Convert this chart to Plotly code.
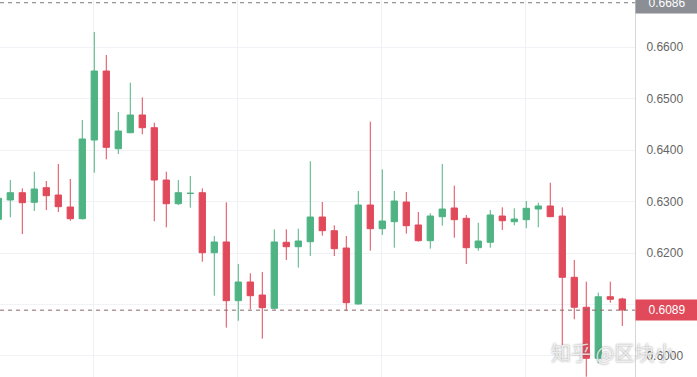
import plotly.graph_objects as go

# candle index (time slots)
idx = list(range(53))

opens = [0.62654, 0.63029, 0.63171, 0.62984, 0.63268, 0.63126, 0.62893, 0.62666, 0.64194, 0.65534,
         0.64025, 0.64336, 0.64680, 0.64433, 0.63417, 0.62957, 0.63155, 0.63171, 0.62006, 0.62214,
         0.61074, 0.61437, 0.61184, 0.60926, 0.62208, 0.62122, 0.62219, 0.62699, 0.62433, 0.62097,
         0.61010, 0.62932, 0.62472, 0.62608, 0.62990, 0.62544, 0.62239, 0.62705, 0.62874, 0.62674,
         0.62103, 0.62208, 0.62718, 0.62608, 0.62647, 0.62854, 0.62913, 0.62718, 0.61528, 0.60946,
         0.59955, 0.61151, 0.61107]
highs = [0.63100, 0.63417, 0.63256, 0.63579, 0.63398, 0.63728, 0.63437, 0.64583, 0.66291, 0.65845,
         0.64738, 0.65307, 0.65023, 0.64530, 0.63579, 0.63417, 0.63495, 0.63256, 0.62330, 0.62984,
         0.61786, 0.61606, 0.61631, 0.62460, 0.62460, 0.62472, 0.63781, 0.62990, 0.62538, 0.62330,
         0.63204, 0.64550, 0.63625, 0.63204, 0.63184, 0.62796, 0.62771, 0.63728, 0.63307, 0.62738,
         0.62588, 0.62835, 0.62887, 0.62868, 0.63010, 0.62977, 0.63365, 0.62887, 0.61864, 0.61443,
         0.61229, 0.61443, 0.61132]
lows = [0.62600, 0.62693, 0.62369, 0.62816, 0.62835, 0.62796, 0.62627, 0.62650, 0.63559, 0.63819,
        0.63922, 0.64324, 0.64305, 0.62616, 0.62499, 0.62932, 0.62880, 0.61831, 0.61171, 0.60550,
        0.60685, 0.60907, 0.60336, 0.60900, 0.61864, 0.61715, 0.61942, 0.62336, 0.61942, 0.60880,
        0.61000, 0.62045, 0.62350, 0.62103, 0.62375, 0.62220, 0.62084, 0.62530, 0.62297, 0.61786,
        0.62045, 0.62103, 0.62447, 0.62538, 0.62480, 0.62499, 0.62700, 0.60214, 0.60713, 0.59598,
        0.59858, 0.61035, 0.60583]
closes = [0.63062, 0.63171, 0.62977, 0.63243, 0.63113, 0.62899, 0.62666, 0.64214, 0.65534, 0.64052,
          0.64369, 0.64680, 0.64433, 0.63417, 0.62957, 0.63171, 0.63160, 0.62006, 0.62214, 0.61074,
          0.61437, 0.61171, 0.60938, 0.62214, 0.62122, 0.62233, 0.62699, 0.62433, 0.62084, 0.61035,
          0.62932, 0.62472, 0.62621, 0.63010, 0.62530, 0.62239, 0.62718, 0.62854, 0.62647, 0.62103,
          0.62233, 0.62738, 0.62627, 0.62660, 0.62868, 0.62913, 0.62705, 0.61528, 0.60946, 0.59955,
          0.61151, 0.61101, 0.60893]

y_ticks = [0.60, 0.61, 0.62, 0.63, 0.64, 0.65, 0.66]
y_ticktext = ["0.6000", "", "0.6200", "0.6300", "0.6400", "0.6500", "0.6600"]
high_marker = 0.6686
last_price = 0.6089
watermark = "知乎 @区块小"

UP = "#4fb383"
DOWN = "#e04a5b"

fig = go.Figure()
fig.add_trace(go.Candlestick(
    x=idx, open=opens, high=highs, low=lows, close=closes,
    increasing=dict(line=dict(color=UP, width=1), fillcolor=UP),
    decreasing=dict(line=dict(color=DOWN, width=1), fillcolor=DOWN),
    whiskerwidth=0, hoverinfo="skip", showlegend=False,
))

fig.add_shape(type="line", xref="paper", x0=0, x1=1, yref="y", y0=high_marker, y1=high_marker,
              line=dict(color="#7a7a7a", width=1, dash="4px,4px"))
fig.add_shape(type="line", xref="paper", x0=0, x1=1, yref="y", y0=last_price, y1=last_price,
              line=dict(color="#8a6666", width=1, dash="4px,4px"))

fig.add_annotation(xref="paper", x=1, xanchor="left", yref="y", y=high_marker, yanchor="middle",
                   text=f"{high_marker:.4f}", showarrow=False, bgcolor="#8b8e94",
                   font=dict(family="Liberation Sans, Arial", size=12, color="white"),
                   width=56, height=14, borderpad=3, align="center")
fig.add_annotation(xref="paper", x=1, xanchor="left", yref="y", y=last_price, yanchor="middle",
                   text=f"{last_price:.4f}", showarrow=False, bgcolor=DOWN,
                   font=dict(family="Liberation Sans, Arial", size=12, color="white"),
                   width=56, height=14, borderpad=3, align="center")
fig.add_annotation(xref="paper", x=0.865, xanchor="left", yref="paper", y=0.065, yanchor="middle",
                   text=watermark, showarrow=False,
                   font=dict(family="Noto Sans CJK SC", size=20, color="rgba(255,255,255,0.75)",
                             shadow="0px 0px 2px rgba(90,90,90,0.9)"))

fig.update_layout(
    width=697, height=377,
    margin=dict(l=0, r=62, t=0, b=0),
    paper_bgcolor="white", plot_bgcolor="white",
    boxgap=0.25,
    hovermode=False,
    xaxis=dict(range=[0.142, 53.06], rangeslider=dict(visible=False), showticklabels=False,
               tick0=7.9, dtick=12, showgrid=True, gridcolor="#eef0f3", gridwidth=1,
               zeroline=False, showline=False, fixedrange=True),
    yaxis=dict(side="right", range=[0.59592, 0.66913], tickvals=y_ticks, ticktext=y_ticktext,
               showgrid=True, gridcolor="#f0f2f5", gridwidth=1, zeroline=False,
               showline=True, linecolor="#d6d6d6", linewidth=1, ticks="outside", ticklen=8,
               tickcolor="rgba(0,0,0,0)", fixedrange=True,
               tickfont=dict(family="Liberation Sans, Arial", size=12, color="#666666")),
)

fig.write_html("out.html", config={"displayModeBar": False},
               post_script="document.body.style.margin='0px';")
